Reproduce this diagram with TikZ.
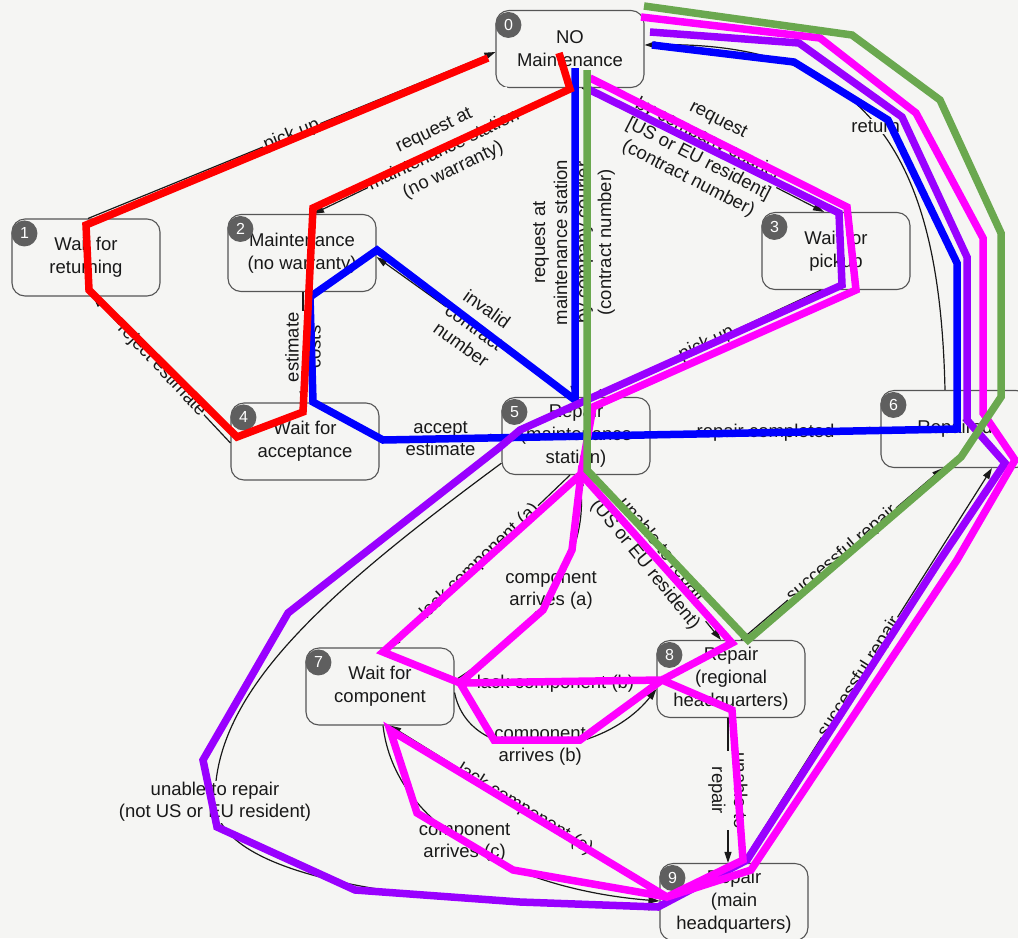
\documentclass[tikz,border=0pt]{standalone}
\usepackage{fontspec}
\setmainfont{Liberation Sans}
\usetikzlibrary{arrows.meta,calc}

\definecolor{paper}{RGB}{245,245,243}
\definecolor{ink}{RGB}{25,25,25}
\definecolor{frame}{RGB}{85,85,85}
\definecolor{badgefill}{RGB}{95,95,95}
\definecolor{routeRed}{RGB}{255,0,0}
\definecolor{routeBlue}{RGB}{0,0,255}
\definecolor{routeGreen}{RGB}{106,168,79}
\definecolor{routeMagenta}{RGB}{255,0,255}
\definecolor{routePurple}{RGB}{153,0,255}

\tikzset{
  state/.style={draw=frame, line width=1.1pt, rounded corners=13pt, fill=paper,
    minimum width=148pt, minimum height=77pt, inner sep=2pt, align=center, text=ink,
    font=\fontsize{18.5}{23}\selectfont},
  badge/.style={circle, fill=badgefill, minimum size=26pt, inner sep=0pt, text=white,
    font=\fontsize{16}{16}\selectfont},
  conn/.style={draw=ink, line width=1.2pt, -{Triangle[length=11pt,width=7pt]}},
  lbl/.style={fill=paper, inner sep=1.5pt, align=center, text=ink,
    font=\fontsize{18.5}{22}\selectfont},
  route/.style={line width=7.5pt, line join=miter, miter limit=4},
}

\begin{document}
\begin{tikzpicture}[x=1pt, y=-1pt]
\fill[paper] (0,0) rectangle (1018,938);
\useasboundingbox (0,0) rectangle (1018,938);
\clip (0,0) rectangle (1018,938);

% states
\node[state] (n0) at (570,49) {NO\\Maintenance};
\node[state] (n1) at (86,257.5) {Wait for\\returning};
\node[state] (n2) at (302,253) {Maintenance\\(no warranty)};
\node[state] (n3) at (836,251) {Wait for\\pickup};
\node[state] (n4) at (305,441.5) {Wait for\\acceptance};
\node[state] (n5) at (576,436) {Repair\\(maintenance\\station)};
\node[state] (n6) at (955,429) {Repaired};
\node[state] (n7) at (380,686.5) {Wait for\\component};
\node[state] (n8) at (731,679) {Repair\\(regional\\headquarters)};
\node[state] (n9) at (734,902) {Repair\\(main\\headquarters)};
\foreach \k in {0,...,9}
  \node[badge] (b\k) at ($(n\k.north west)+(13,15)$) {\k};

% transitions
\draw[conn] ($(n1.north)+(2,0)$) -- node[lbl,sloped] (l1) {pick up} ($(n0.west)+(0,3)$);
\draw[conn] ($(n0.south)+(5,0)$) -- node[lbl,sloped] (l2) {request at\\maintenance station\\(no warranty)} ($(n2.north)+(11,0)$);
\draw[conn] ($(n0.south)+(4,0)$) -- node[lbl,rotate=90] (l3) {request at\\maintenance station\\by company courier\\(contract number)} ($(n5.north)+(-2,0)$);
\draw[conn] ($(n0.south)+(12,0)$) -- node[lbl,sloped] (l4) {request\\by company courier\\{[US or EU resident]}\\(contract number)} ($(n3.north)+(-12,0)$);
\draw[conn] ($(n6.north)+(-10,0)$) .. controls (940,170) and (880,40) .. ($(n0.east)+(0,-4)$) node[lbl,pos=0.52] (l5) {return};
\draw[conn] ($(n2.south)+(1,0)$) -- node[lbl,rotate=90] (l6) {estimate\\costs} ($(n4.north)+(-2,0)$);
\draw[conn] ($(n4.west)+(0,1.5)$) -- node[lbl,sloped] (l7) {reject estimate} ($(n1.south)+(7,0)$);
\draw[conn] ($(n4.east)+(0,-1.5)$) -- node[lbl] (l8) {accept\\estimate} ($(n5.west)+(0,1)$);
\draw[conn] (n5.east) -- node[lbl] (l9) {repair completed} ($(n6.west)+(0,1)$);
\draw[conn] ($(n5.north)+(-4,0)$) -- node[lbl,sloped] (l10) {invalid\\contract\\number} ($(n2.east)+(0,4)$);
\draw[conn] ($(n3.south)+(-15,0)$) -- node[lbl,sloped] (l11) {pick up} ($(n5.north)+(16,0)$);
\draw[conn] (n5.200) .. controls (330,590) and (213,690) .. (215,802)
  node[lbl] (l12) {unable to repair\\(not US or EU resident)}
  .. controls (218,885) and (450,907) .. ($(n9.west)+(0,5)$);
\draw[conn] ($(n9.north)+(8,0)$) -- node[lbl,sloped,pos=0.47] (l13) {successful repair} ($(n6.south)+(37,0)$);
\draw[conn] ($(n8.north)+(10,0)$) -- node[lbl,sloped] (l14) {successful repair} ($(n6.south)+(-12,0)$);
\draw[conn] ($(n5.south)+(10,0)$) -- node[lbl,sloped] (l15) {unable to repair\\(US or EU resident)} ($(n8.north)+(-10,0)$);
\draw[conn] ($(n5.south)+(-6,0)$) -- node[lbl,sloped] (l16) {lack component (a)} ($(n7.north)+(10,0)$);
\draw[conn] ($(n7.east)+(0,-6)$) .. controls (535,630) and (590,560) .. ($(n5.south)+(3,0)$) node[lbl,pos=0.5] (l17) {component\\arrives (a)};
\draw[conn] ($(n8.west)+(0,4)$) -- node[lbl] (l18) {lack component (b)} ($(n7.east)+(0,-3)$);
\draw[conn] ($(n7.east)+(0,6)$) .. controls (470,770) and (600,760) .. ($(n8.west)+(0,10)$) node[lbl,pos=0.5] (l19) {component\\arrives (b)};
\draw[conn] ($(n8.south)+(-3,0)$) -- node[lbl,rotate=-90] (l20) {unable to\\repair} ($(n9.north)+(-6,0)$);
\draw[conn] ($(n9.west)+(0,-9)$) -- node[lbl,sloped] (l21) {lack component (c)} ($(n7.south)+(10,0)$);
\draw[conn] ($(n7.south)+(3,0)$) .. controls (395,830) and (520,890) .. ($(n9.west)+(0,-1)$) node[lbl,pos=0.47] (l22) {component\\arrives (c)};

% highlighted routes
\draw[route,routeBlue] (575,68) -- (575,400) -- (377,250) -- (310,297) -- (313,402) -- (383,440)
  -- (957,429) -- (957,263) -- (888,120) -- (794,62) -- (652,45);
\draw[route,routePurple] (586,88) -- (839,213) -- (842,285) -- (520,430) -- (500,447) -- (288,613)
  -- (203,760) -- (217,827) -- (355,890) -- (520,902) -- (658,907) -- (747,860) -- (940,560)
  -- (1005,463) -- (967,420) -- (967,257) -- (902,117) -- (799,43) -- (650,32);
\draw[route,routeMagenta] (590,78) -- (847,207) -- (856,290) -- (593,407) -- (581,474) -- (383,652)
  -- (460,683) -- (543,610) -- (572,550) -- (581,474) -- (732,643) -- (662,680) -- (460,683)
  -- (494,740) -- (580,740) -- (662,680) -- (732,710) -- (743,860) -- (667,897) -- (390,730)
  -- (417,813) -- (513,870) -- (667,897) -- (751,870) -- (957,560) -- (1015,460) -- (983,413)
  -- (983,238) -- (916,113) -- (820,38) -- (641,17);
\draw[route,routeGreen] (587,70) -- (587,470) -- (748,640) -- (961,457) -- (1001,397) -- (1001,233)
  -- (940,100) -- (852,35) -- (644,6);
\draw[route,routeRed] (559,53) -- (570,89) -- (313,208) -- (303,412) -- (237,437) -- (89,290)
  -- (86,225) -- (488,58);
\end{tikzpicture}
\end{document}
